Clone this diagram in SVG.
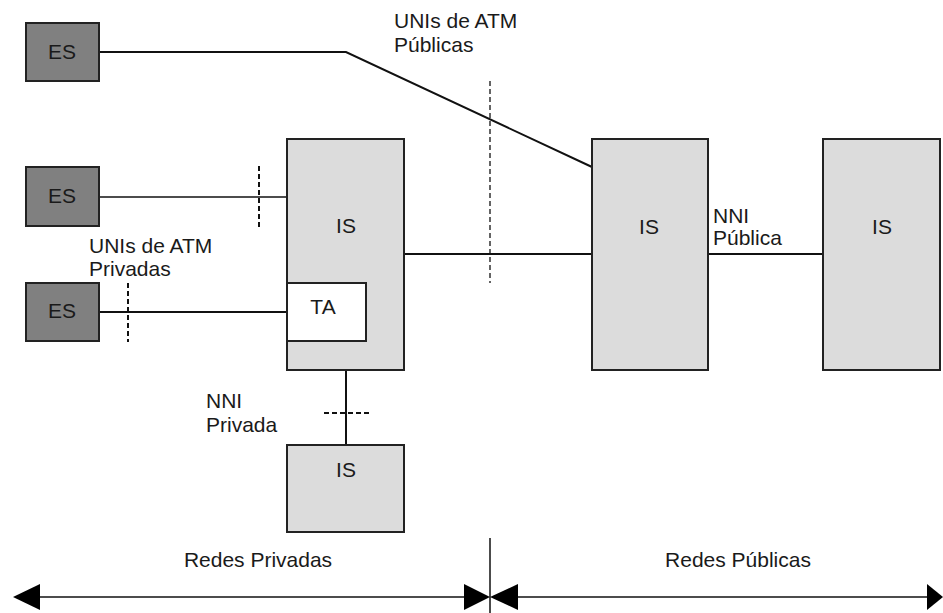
<svg xmlns="http://www.w3.org/2000/svg" width="943" height="613" viewBox="0 0 943 613">
<style>
text{font-family:"Liberation Sans",Arial,sans-serif;font-size:21px;fill:#1a1a1a}
.es{fill:#808080;stroke:#222;stroke-width:2}
.is{fill:#dcdcdc;stroke:#222;stroke-width:2}
.ta{fill:#fff;stroke:#222;stroke-width:2}
.ln{stroke:#111;stroke-width:2;fill:none}
.thin{stroke:#111;stroke-width:1.5;fill:none}
.dash{stroke:#111;stroke-width:2;stroke-dasharray:5,3;fill:none}
.dashthin{stroke:#111;stroke-width:1.3;stroke-dasharray:5,3;fill:none}
.c{text-anchor:middle}
</style>
<rect width="943" height="613" fill="#fff"/>
<g id="connectors">
<polyline class="ln" points="99,52 346,52 592,167"/>
<line class="thin" x1="99" y1="197" x2="287" y2="197"/>
<line class="ln" x1="99" y1="312" x2="287" y2="312"/>
<line class="ln" x1="404" y1="254" x2="592" y2="254"/>
<line class="ln" x1="708" y1="254" x2="823" y2="254"/>
<line class="ln" x1="346" y1="370" x2="346" y2="445"/>
<line class="dash" x1="259" y1="166" x2="259" y2="227"/>
<line class="dash" x1="128" y1="283" x2="128" y2="342"/>
<line class="dashthin" x1="490" y1="81" x2="490" y2="283"/>
<line class="dash" x1="324" y1="413" x2="370" y2="413"/>
</g>
<g id="es1"><rect class="es" x="26" y="23" width="73" height="58"/><text class="c" x="62" y="59">ES</text></g>
<g id="es2"><rect class="es" x="26" y="167" width="73" height="59"/><text class="c" x="62" y="203">ES</text></g>
<g id="es3"><rect class="es" x="26" y="283" width="73" height="58"/><text class="c" x="62" y="318">ES</text></g>
<g id="is1"><rect class="is" x="287" y="139" width="117" height="231"/><text class="c" x="346" y="233">IS</text></g>
<g id="ta"><rect class="ta" x="287" y="283" width="79" height="58"/><text class="c" x="323" y="314">TA</text></g>
<g id="is2"><rect class="is" x="287" y="445" width="117" height="87"/><text class="c" x="346" y="477">IS</text></g>
<g id="is3"><rect class="is" x="592" y="139" width="116" height="231"/><text class="c" x="649" y="234">IS</text></g>
<g id="is4"><rect class="is" x="823" y="139" width="117" height="231"/><text class="c" x="882" y="234">IS</text></g>
<g id="labels">
<text x="394" y="28">UNIs de ATM</text>
<text x="394" y="52">Públicas</text>
<text x="89" y="253">UNIs de ATM</text>
<text x="89" y="276">Privadas</text>
<text x="206" y="408">NNI</text>
<text x="206" y="432">Privada</text>
<text x="713" y="223">NNI</text>
<text x="713" y="245">Pública</text>
<text class="c" x="258" y="567">Redes Privadas</text>
<text class="c" x="738" y="567">Redes Públicas</text>
</g>
<g id="scale">
<line class="thin" x1="490" y1="538" x2="490" y2="613"/>
<line class="thin" x1="30" y1="597" x2="470" y2="597"/>
<line class="thin" x1="510" y1="597" x2="930" y2="597"/>
<polygon points="13,597 40,584 40,610" fill="#000"/>
<polygon points="490,597 464,584 464,610" fill="#000"/>
<polygon points="490,597 518,584 518,610" fill="#000"/>
<polygon points="943,597 927,584 927,610" fill="#000"/>
</g>
</svg>
